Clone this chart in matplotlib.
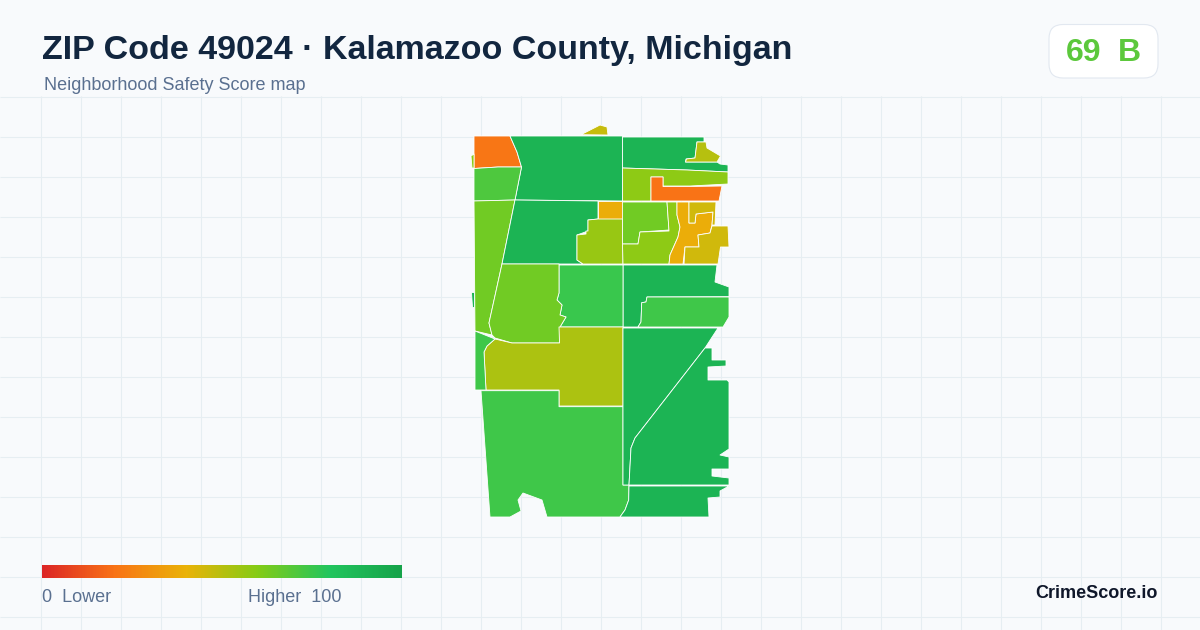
import matplotlib
matplotlib.use("Agg")
import matplotlib.pyplot as plt
import numpy as np
from matplotlib.colors import LinearSegmentedColormap
from matplotlib.patches import FancyBboxPatch

plt.rcParams["font.family"] = ["Liberation Sans", "DejaVu Sans"]

# score scale
scale_stops = [0.0, 0.2, 0.4, 0.6, 0.8, 1.0]
scale_colors = ["#dc2626", "#f97316", "#eab308", "#84cc16", "#22c55e", "#16a34a"]

# map areas, outlines
nw_orange = [(474, 136), (510, 136), (517, 152), (521.5, 167), (498, 167), (474, 168.5)]
nw_north = [(510, 136), (622.5, 136), (622.5, 201), (515, 200), (521.5, 167), (517, 152)]
nw_mid = [(474, 168.5), (498, 167), (521.5, 167), (515, 200), (474, 201)]
west_strip = [(474, 201), (515, 200), (502, 264), (489, 323), (492, 335), (475, 331)]
center_north = [(515, 200), (598, 201), (598, 219), (588, 220), (588, 231), (577, 235),
                (577, 260), (583, 264), (502, 264)]
small_orange = [(598, 201), (622.5, 201), (622.5, 219), (598, 219)]
center_lime = [(598, 219), (622.5, 219), (623, 264), (583, 264), (577, 260), (577, 235),
               (586, 234), (586, 231), (588, 231), (588, 220)]
ne_green = [(622.5, 137), (704, 137), (704, 142), (697, 142), (695, 158), (686, 159), (685.5, 162),
            (717, 162), (720, 164), (728, 165), (728, 172), (687, 170), (622.5, 168)]
ne_olive = [(697, 142), (706, 142), (707, 148), (720.5, 156), (717, 162), (685.5, 162),
            (686.5, 159), (695, 158)]
ne_lime = [(622.5, 168), (687, 170), (728, 172), (728, 184), (690, 186), (663, 186), (663, 177),
           (651, 177), (651, 201), (622.5, 201)]
ne_orange = [(651, 177), (663, 177), (663, 186.5), (690, 186.5), (722, 186), (719, 201), (651, 201)]
east_green = [(622.5, 202), (667, 202), (669, 230), (640, 232), (638, 244), (622.5, 244)]
east_lime = [(667, 202), (677, 202), (677, 215), (680, 227), (678, 237), (670, 255), (669, 264),
             (623, 264), (622.5, 244), (638, 244), (640, 232), (669, 231)]
east_orange = [(677, 202), (689, 202), (689, 223), (695, 223), (696, 214), (713, 212), (712, 225),
               (710, 233), (698, 235), (699, 247), (685, 247), (683, 264), (669, 264), (670, 255),
               (678, 237), (680, 227), (677, 215)]
east_yellow_n = [(689, 202), (716, 202), (715, 225), (712, 225), (713, 212), (696, 214),
                 (695, 223), (689, 223)]
east_yellow_s = [(712, 226), (728, 226), (729, 247), (720.5, 247), (718, 264), (684, 264), (685, 247),
                 (699, 247), (698, 235), (710, 233)]
mid_east = [(623, 265), (717, 265), (715, 282), (729, 287), (729, 296.7), (647, 297), (646, 302),
            (641.7, 302.7), (641, 322), (638, 327), (623, 327)]
mid_east_light = [(647, 297), (729, 297), (729, 317), (723, 327), (638, 327), (641, 322),
                  (641.7, 302.7), (646, 302)]
mid_center = [(559, 265), (623, 265), (623, 327), (560, 327), (566, 317), (560, 315), (562, 305),
              (557, 300), (559, 293)]
mid_west = [(502, 264), (559, 264), (559, 293), (557, 300), (562, 305), (560, 315), (566, 317),
            (560, 327), (559.5, 343), (512, 343), (495, 338), (492, 335), (489, 323)]
olive_center = [(559, 327), (623, 327), (623, 406), (559, 406), (559, 390), (486, 390), (484, 352),
                (487, 346), (495, 339), (512, 343), (559.5, 343)]
west_small = [(475, 331), (495, 339), (487, 346), (484, 352), (486, 390), (475, 390)]
south_big = [(481, 390.7), (559, 390.7), (559, 406.7), (623, 406.7), (623, 485), (629, 485),
             (628.7, 500), (625, 510), (620, 517), (547, 517), (542, 500), (523, 493), (518, 500),
             (521, 511), (510, 517), (490, 517)]
se_wedge = [(623, 328), (718, 328), (705, 348), (635, 438), (631, 448), (629, 485), (623, 485)]
se_main = [(705, 348), (712, 348), (712, 360), (726, 360), (726, 366), (708, 367), (708, 380),
           (727, 380), (729, 382), (729, 449), (720, 455), (729, 457), (729, 469), (712, 469),
           (712, 476), (729, 478), (729, 485), (629, 485), (631, 448), (635, 438)]
se_bottom = [(629, 486), (729, 486), (720, 491), (720, 497), (708, 498), (709, 517), (620, 517),
             (625, 510), (628.7, 500)]
north_speck = [(581, 134.7), (600, 125), (607, 127), (608, 135)]
left_speck_n = [(471, 156), (474, 154), (474, 168), (472, 168)]
left_speck_s = [(471, 292), (474, 292), (474, 307), (472, 307)]

areas = [nw_orange, nw_north, nw_mid, west_strip, center_north, small_orange, center_lime,
         ne_green, ne_olive, ne_lime, ne_orange, east_green, east_lime, east_orange,
         east_yellow_n, east_yellow_s, mid_east, mid_east_light, mid_center, mid_west,
         olive_center, west_small, south_big, se_wedge, se_main, se_bottom, north_speck,
         left_speck_n, left_speck_s]
scores = [21, 90, 71, 64, 90, 38, 56,
          90, 50, 58, 20, 64, 58, 38,
          45, 45, 90, 74, 75, 64,
          52, 74, 74, 90, 90, 90, 47,
          58, 90]

cmap = LinearSegmentedColormap.from_list("score", list(zip(scale_stops, scale_colors)))

fig = plt.figure(figsize=(12, 6.3), dpi=100, facecolor="#f8fafc")
ax = fig.add_axes([0, 0, 1, 1])
ax.set_xlim(0, 1200)
ax.set_ylim(630, 0)
ax.axis("off")

# background grid, only below the header
ax.vlines(np.arange(40.5, 1200, 40), 96, 630, color="#e6eef2", lw=0.8, zorder=1)
ax.hlines(np.arange(96.5, 630, 40), 0, 1200, color="#e6eef2", lw=0.8, zorder=1)

for area, score in zip(areas, scores):
    xs, ys = zip(*area)
    ax.fill(xs, ys, facecolor=cmap(score / 100), edgecolor="white", lw=0.6, zorder=2,
            joinstyle="round")

ax.text(42, 50, "ZIP Code 49024 · Kalamazoo County, Michigan", fontsize=24.5, fontweight="bold",
        color="#12263f", va="center", ha="left", zorder=4)
ax.text(44, 86, "Neighborhood Safety Score map", fontsize=13, color="#5a7090", va="center",
        ha="left", zorder=4)

badge = FancyBboxPatch((1049, 24.5), 109, 53.5, boxstyle="round,pad=0,rounding_size=14",
                       facecolor="white", edgecolor="#e2e8f0", lw=0.8, zorder=3)
ax.add_patch(badge)
ax.text(1065.5, 53, "69", fontsize=23, fontweight="bold", color="#5cc83c", va="center",
        ha="left", zorder=4)
ax.text(1118, 53, "B", fontsize=23, fontweight="bold", color="#5cc83c", va="center",
        ha="left", zorder=4)

# legend bar
grad = np.linspace(0, 1, 360).reshape(1, -1)
ax.imshow(grad, cmap=cmap, extent=(42, 402, 578, 565), aspect="auto", zorder=3)
ax.set_xlim(0, 1200)
ax.set_ylim(630, 0)
ax.text(42, 598, "0  Lower", fontsize=13, color="#5a7090", va="center", ha="left", zorder=4)
ax.text(341.5, 598, "Higher  100", fontsize=13, color="#5a7090", va="center", ha="right", zorder=4)
ax.text(1158, 593, "CrimeScore.io", fontsize=13, fontweight="bold", color="#0f172a", va="center",
        ha="right", zorder=4)

fig.savefig("out.png", dpi=100, facecolor=fig.get_facecolor())
